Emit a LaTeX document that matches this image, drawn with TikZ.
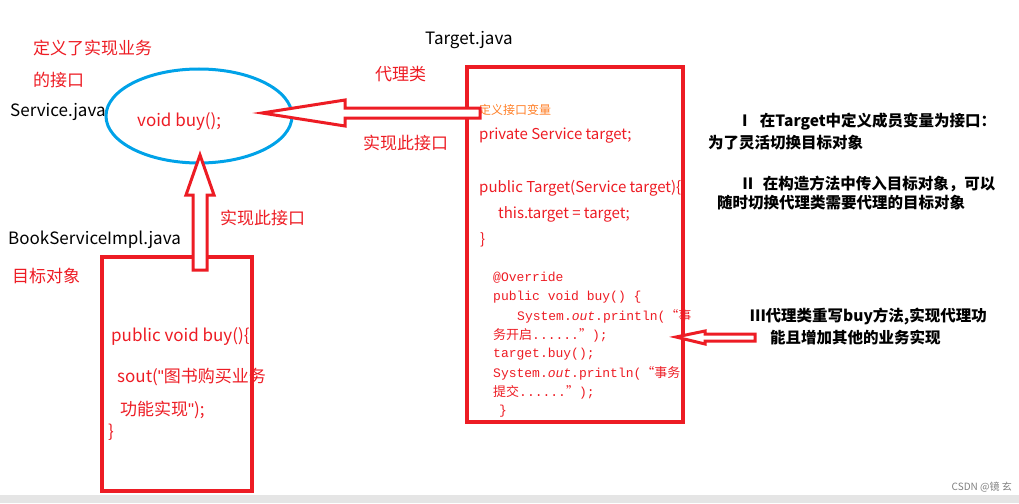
\documentclass[tikz,border=0pt]{standalone}
\usepackage{fontspec}
\setmainfont{Noto Sans CJK SC}
\newfontfamily\cjk{Noto Sans CJK SC}
\newfontfamily\lat{Liberation Sans}
\newfontfamily\mono{Liberation Mono}
\definecolor{rr}{RGB}{237,28,36}
\definecolor{cy}{RGB}{0,162,232}
\definecolor{og}{RGB}{255,127,39}
\begin{document}
\begin{tikzpicture}[x=1pt,y=-1pt,
  lbl/.style={anchor=west,inner sep=0pt,font=\fontsize{17}{17}\selectfont},
  red lbl/.style={lbl,text=rr},
  code/.style={anchor=west,inner sep=0pt,text=rr,font=\mono\fontsize{13}{13}\selectfont},
  note/.style={anchor=west,inner sep=0pt,font=\cjk\bfseries\fontsize{15.5}{15.5}\selectfont},
  boxline/.style={draw=rr,line width=4pt},
  hollow/.style={draw=rr,line width=3pt,fill=white}]
\useasboundingbox (0,0) rectangle (1019,503);
\fill[gray!20] (0,495) rectangle (1019,503);
\node[anchor=east,inner sep=0pt,text=gray,font=\fontsize{10}{10}\selectfont] (csdn) at (1012,487) {CSDN @镜 玄};
% service ellipse
\draw[cy,line width=3pt] (199,116) ellipse [x radius=93,y radius=47];
\node[lbl] (svc) at (10,112) {Service.java};
\node[red lbl] (def1) at (33,48) {定义了实现业务};
\node[red lbl] (def2) at (33,80) {的接口};
\node[red lbl] (vb) at (137,122) {void buy();};
% boxes
\draw[boxline] (102,257) rectangle (252,491);
\draw[boxline] (467,67) rectangle (683,422);
\node[lbl] (bsi) at (8,240) {BookServiceImpl.java};
\node[red lbl] (mb) at (12,276) {目标对象};
\node[red lbl] (p1) at (111,337) {public void buy()\{};
\node[red lbl] (p2) at (117,377) {sout({\lat"}图书购买业务};
\node[red lbl] (p3) at (120,410) {功能实现{\lat"});};
\node[red lbl] (p4) at (108,432) {\}};
\node[lbl] (tj) at (425,40) {Target.java};
\node[red lbl] (dl) at (375,74) {代理类};
\node[red lbl] (sx1) at (363,143) {实现此接口};
\node[red lbl] (sx2) at (220,218) {实现此接口};
\node[anchor=west,inner sep=0pt,text=og,font=\fontsize{12}{12}\selectfont] (t0) at (479,110) {定义接口变量};
\node[anchor=west,inner sep=0pt,text=rr,font=\fontsize{15}{15}\selectfont] (t1) at (479,136) {private Service target;};
\node[anchor=west,inner sep=0pt,text=rr,font=\fontsize{15}{15}\selectfont] (t2) at (479,188) {public Target(Service target)\{};
\node[anchor=west,inner sep=0pt,text=rr,font=\fontsize{15}{15}\selectfont] (t3) at (498,214) {this.target = target;};
\node[anchor=west,inner sep=0pt,text=rr,font=\fontsize{15}{15}\selectfont] (t4) at (480,240) {\}};
\node[code] (c1) at (493,278) {@Override};
\node[code] (c2) at (493,297) {public void buy()  \{};
\node[code] (c3) at (517,316) {System.\textit{out}.println({\cjk “事}};
\node[code] (c4) at (493,335) {{\cjk 务开启}......{\cjk ”});};
\node[code] (c5) at (493,354) {target.buy();};
\node[code] (c6) at (493,373) {System.\textit{out}.println({\cjk “事务}};
\node[code] (c7) at (493,392) {{\cjk 提交}......{\cjk ”});};
\node[code] (c8) at (499,411) {\}};
\node[note] (n1) at (737,122) {Ⅰ\ \ 在Target中定义成员变量为接口：};
\node[note] (n1b) at (708,143) {为了灵活切换目标对象};
\node[note] (n2) at (740,184) {Ⅱ\ \ 在构造方法中传入目标对象，可以};
\node[note] (n2b) at (717,203) {随时切换代理类需要代理的目标对象};
\node[note] (n3) at (750,316) {Ⅲ代理类重写buy方法,实现代理功};
\node[note] (n3b) at (770,337) {能且增加其他的业务实现};
% hollow arrows
\draw[hollow] (262,113) -- (345,100) -- (345,108) -- (480,108) -- (480,118) -- (345,118) -- (345,126) -- cycle;
\draw[hollow] (200,155) -- (214,195) -- (207,195) -- (207,270) -- (193,270) -- (193,195) -- (186,195) -- cycle;
\draw[hollow] (676,337) -- (705,331) -- (705,334) -- (755,334) -- (755,341) -- (705,341) -- (705,344) -- cycle;
\end{tikzpicture}
\end{document}
